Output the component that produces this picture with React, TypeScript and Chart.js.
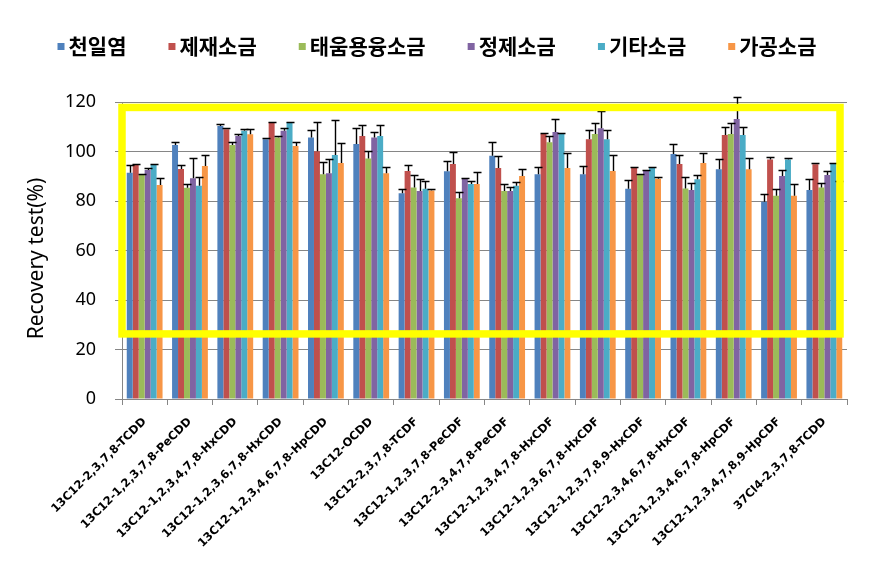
import React, { useEffect, useRef } from "react";
import { Chart, registerables } from "chart.js";

Chart.register(...registerables);

const categories = [
  "13C12-2,3,7,8-TCDD",
  "13C12-1,2,3,7,8-PeCDD",
  "13C12-1,2,3,4,7,8-HxCDD",
  "13C12-1,2,3,6,7,8-HxCDD",
  "13C12-1,2,3,4,6,7,8-HpCDD",
  "13C12-OCDD",
  "13C12-2,3,7,8-TCDF",
  "13C12-1,2,3,7,8-PeCDF",
  "13C12-2,3,4,7,8-PeCDF",
  "13C12-1,2,3,4,7,8-HxCDF",
  "13C12-1,2,3,6,7,8-HxCDF",
  "13C12-1,2,3,7,8,9-HxCDF",
  "13C12-2,3,4,6,7,8-HxCDF",
  "13C12-1,2,3,4,6,7,8-HpCDF",
  "13C12-1,2,3,4,7,8,9-HpCDF",
  "37Cl4-2,3,7,8-TCDD",
];

const seriesNames = ["천일염", "제재소금", "태움용융소금", "정제소금", "기타소금", "가공소금"];
const seriesColors = ["#4F81BD", "#C0504D", "#9BBB59", "#8064A2", "#4BACC6", "#F79646"];

const cheonilyeom = [91.4, 102.6, 110.3, 104.9, 105.7, 103.0, 83.1, 92.0, 98.3, 90.8, 90.8, 85.0, 99.0, 92.8, 79.7, 84.4];
const cheonilyeomErr = [3.0, 1.4, 0.7, 0.6, 2.9, 6.4, 1.9, 4.0, 5.7, 3.1, 3.5, 3.5, 3.9, 4.0, 3.0, 4.4];

const jejaeSogeum = [94.7, 92.9, 109.0, 111.8, 100.1, 106.3, 92.1, 95.0, 93.3, 107.1, 105.0, 93.6, 95.0, 106.7, 96.8, 94.8];
const jejaeSogeumErr = [0.3, 1.8, 0.3, 0.3, 11.7, 4.4, 2.6, 4.7, 5.0, 0.5, 3.6, 0.3, 3.5, 3.1, 0.9, 0.6];

const taeumSogeum = [90.5, 85.4, 102.6, 105.7, 90.8, 97.2, 85.5, 81.1, 84.0, 103.7, 107.1, 90.5, 85.1, 107.1, 82.1, 85.5];
const taeumSogeumErr = [0.3, 1.6, 1.1, 0.6, 5.1, 2.9, 5.1, 2.7, 3.0, 2.6, 4.3, 0.5, 4.7, 4.3, 2.6, 1.6];

const jeongjeSogeum = [92.5, 89.2, 106.3, 108.4, 91.2, 105.7, 84.0, 89.0, 84.0, 107.9, 109.4, 92.5, 84.4, 113.1, 90.1, 90.5];
const jeongjeSogeumErr = [0.7, 8.0, 0.7, 1.2, 5.6, 2.3, 4.8, 0.2, 1.8, 5.1, 6.8, 0.2, 2.7, 9.0, 2.4, 1.5];

const gitaSogeum = [94.7, 86.2, 108.4, 111.8, 98.6, 106.3, 85.0, 86.9, 86.2, 107.1, 104.9, 93.6, 88.8, 106.7, 96.8, 95.0];
const gitaSogeumErr = [0.3, 3.6, 0.8, 0.3, 14.0, 4.4, 3.2, 1.3, 1.6, 0.5, 3.7, 0.3, 1.6, 3.1, 0.7, 0.4];

const gagongSogeum = [86.5, 94.1, 107.0, 102.2, 95.4, 91.2, 84.2, 86.9, 90.1, 93.3, 92.1, 89.0, 95.4, 92.8, 82.1, 88.0];
const gagongSogeumErr = [2.7, 4.4, 2.2, 1.8, 7.9, 2.4, 0.8, 4.7, 2.9, 6.0, 6.4, 0.5, 3.9, 4.4, 4.6, 0.0];

const seriesValues = [cheonilyeom, jejaeSogeum, taeumSogeum, jeongjeSogeum, gitaSogeum, gagongSogeum];
const seriesErrors = [cheonilyeomErr, jejaeSogeumErr, taeumSogeumErr, jeongjeSogeumErr, gitaSogeumErr, gagongSogeumErr];

const yTicks = [0, 20, 40, 60, 80, 100, 120];
const yTitle = "Recovery test(%)";
const highlightRange = { top: 117.8, bottom: 26.3 };

export default function App() {
  const ref = useRef<HTMLCanvasElement>(null);

  useEffect(() => {
    if (!ref.current) return;

    const errorBars = {
      id: "errorBars",
      afterDatasetsDraw(chart: any) {
        const ctx = chart.ctx;
        const yScale = chart.scales.y;
        ctx.save();
        ctx.strokeStyle = "#000000";
        ctx.lineWidth = 1.4;
        chart.data.datasets.forEach((ds: any, i: number) => {
          const meta = chart.getDatasetMeta(i);
          meta.data.forEach((bar: any, j: number) => {
            const v = ds.data[j];
            const e = ds.errors[j];
            const top = Math.round(yScale.getPixelForValue(v + e)) + 0.5;
            const x = Math.round(bar.x) + 0.5;
            ctx.beginPath();
            ctx.moveTo(x, bar.y);
            ctx.lineTo(x, top);
            ctx.moveTo(x - 4, top);
            ctx.lineTo(x + 4, top);
            ctx.stroke();
          });
        });
        ctx.restore();
      },
    };

    const highlight = {
      id: "highlight",
      afterDraw(chart: any) {
        const ctx = chart.ctx;
        const { left, right } = chart.chartArea;
        const yScale = chart.scales.y;
        const t = yScale.getPixelForValue(highlightRange.top);
        const b = yScale.getPixelForValue(highlightRange.bottom);
        ctx.save();
        ctx.strokeStyle = "#FFFF00";
        ctx.lineWidth = 7.5;
        ctx.strokeRect(left, t, right - 7 - left, b - t);
        ctx.restore();
      },
    };

    const axisTitle = {
      id: "axisTitle",
      afterDraw(chart: any) {
        const ctx = chart.ctx;
        const { top, bottom } = chart.chartArea;
        ctx.save();
        ctx.translate(37, (top + bottom) / 2 + 8);
        ctx.rotate(-Math.PI / 2);
        ctx.font = "21px 'Noto Sans'";
        ctx.fillStyle = "#000000";
        ctx.textAlign = "center";
        ctx.textBaseline = "middle";
        ctx.fillText(yTitle, 0, 0);
        ctx.restore();
      },
    };

    const customLegend = {
      id: "customLegend",
      afterDraw(chart: any) {
        const ctx = chart.ctx;
        ctx.save();
        ctx.font = "bold 21px 'Noto Sans CJK KR'";
        ctx.textBaseline = "middle";
        const box = 7;
        const gap = 4;
        const spacing = 42;
        const items = chart.data.datasets.map((ds: any) => ({
          label: ds.label,
          color: ds.backgroundColor,
          w: box + gap + ctx.measureText(ds.label).width,
        }));
        const total = items.reduce((s: number, it: any) => s + it.w, 0) + spacing * (items.length - 1);
        let x = 437 - total / 2;
        const cy = 46;
        items.forEach((it: any) => {
          ctx.fillStyle = it.color;
          ctx.fillRect(x, cy - 3, box, box);
          ctx.fillStyle = "#000000";
          ctx.fillText(it.label, x + box + gap, cy);
          x += it.w + spacing;
        });
        ctx.restore();
      },
    };

    const chart = new Chart(ref.current, {
      type: "bar",
      data: {
        labels: categories,
        datasets: seriesNames.map((name, i) => ({
          label: name,
          data: seriesValues[i],
          errors: seriesErrors[i],
          backgroundColor: seriesColors[i],
          borderWidth: 0,
          categoryPercentage: 0.79,
          barPercentage: 1.0,
        })) as any,
      },
      options: {
        animation: false,
        responsive: false,
        devicePixelRatio: 1,
        layout: { padding: { top: 102, right: 24, left: 0, bottom: 0 } },
        plugins: {
          legend: { display: false },
          tooltip: { enabled: false },
        },
        scales: {
          x: {
            grid: {
              display: true,
              drawOnChartArea: false,
              drawTicks: true,
              tickLength: 6,
              color: "#868686",
              offset: true,
            },
            border: { color: "#868686", width: 1 },
            ticks: {
              autoSkip: false,
              minRotation: 45,
              maxRotation: 45,
              padding: 10,
              color: "#000000",
              font: { family: "'DejaVu Sans'", size: 11.5, weight: "bold" },
            },
            afterFit(scale: any) {
              scale.height = 162;
            },
          },
          y: {
            min: 0,
            max: 120,
            afterBuildTicks(scale: any) {
              scale.ticks = yTicks.map((v) => ({ value: v }));
            },
            grid: {
              color: "#868686",
              tickLength: 7,
              drawTicks: true,
            },
            border: { color: "#868686", width: 1 },
            ticks: {
              padding: 19,
              color: "#000000",
              font: { family: "'Noto Sans'", size: 18 },
            },
            afterFit(scale: any) {
              scale.width = 122;
            },
          },
        },
      },
      plugins: [errorBars, highlight, axisTitle, customLegend],
    });

    return () => chart.destroy();
  }, []);

  return (
    <div style={{ position: "absolute", left: 0, top: 0, width: 871, height: 561, background: "#ffffff" }}>
      <canvas ref={ref} width={871} height={561} style={{ display: "block" }} />
    </div>
  );
}
